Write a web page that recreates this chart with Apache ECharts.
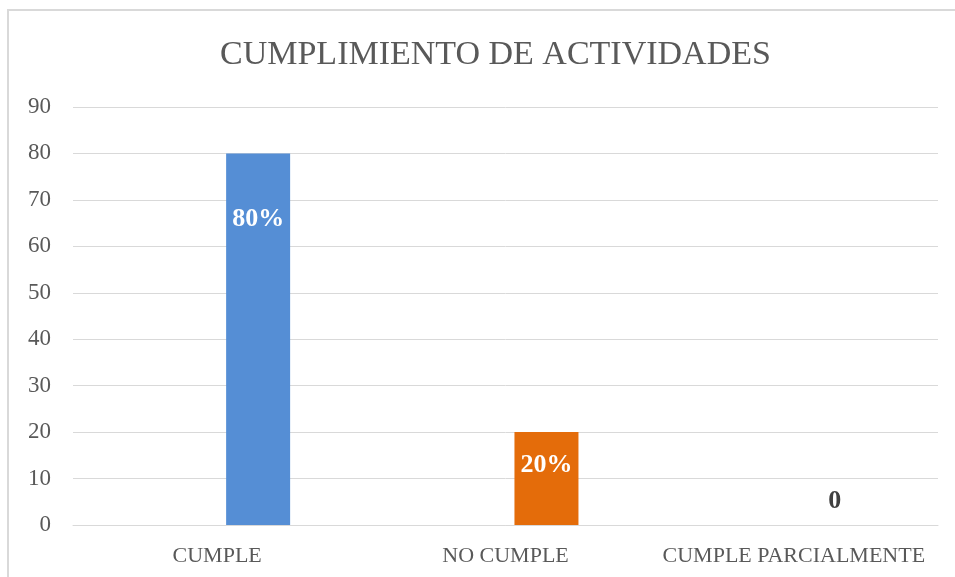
<!DOCTYPE html>
<html>
<head>
<meta charset="utf-8">
<script src="https://cdn.jsdelivr.net/npm/echarts@6/dist/echarts.min.js"></script>
<style>
  html, body { margin: 0; padding: 0; background: #fff; }
  #chart { width: 955px; height: 577px; }
</style>
</head>
<body>
<div id="chart"></div>
<script>
// chart data
const titleText = 'CUMPLIMIENTO DE ACTIVIDADES';
const categories = ['CUMPLE', 'NO CUMPLE', 'CUMPLE PARCIALMENTE'];
const values = [80, 20, 0];
const barColors = ['#558ed5', '#e46c0a', '#a5a5a5'];
const labelColors = ['#ffffff', '#ffffff', '#404040'];

const serif = '"Liberation Serif", "DejaVu Serif", serif';

// label placement per bar (inside near top, or above when the bar is empty)
const labelDist = [53, 20, 11];

const barData = values.map((v, i) => ({
  value: v,
  itemStyle: { color: barColors[i] },
  label: {
    position: v > 0 ? 'insideTop' : 'top',
    distance: labelDist[i],
    color: labelColors[i]
  }
}));

const chart = echarts.init(document.getElementById('chart'));
chart.setOption({
  animation: false,
  title: {
    text: titleText,
    left: 215,
    top: 33,
    textStyle: {
      fontFamily: serif,
      fontWeight: 'normal',
      fontSize: 34,
      color: '#595959'
    }
  },
  graphic: [{
    type: 'rect',
    shape: { x: 8, y: 10, width: 1000, height: 700 },
    style: { fill: 'none', stroke: '#d9d9d9', lineWidth: 2 },
    silent: true
  }],
  grid: { left: 73, right: 17, top: 107, bottom: 52, containLabel: false },
  xAxis: {
    type: 'category',
    data: categories,
    axisLine: { lineStyle: { color: '#d9d9d9', width: 1 } },
    axisTick: { show: false },
    axisLabel: {
      interval: 0,
      fontFamily: serif,
      fontSize: 22,
      color: '#595959',
      margin: 20
    }
  },
  yAxis: {
    type: 'value',
    min: 0,
    max: 90,
    interval: 10,
    axisLine: { show: false },
    axisTick: { show: false },
    splitLine: { lineStyle: { color: '#d9d9d9', width: 1 } },
    axisLabel: {
      fontFamily: serif,
      fontSize: 23,
      color: '#595959',
      margin: 22
    }
  },
  series: [
    {
      // empty first series so the real bars sit right of the category centre
      type: 'bar',
      data: values.map(() => null),
      barWidth: 64,
      barGap: '28%'
    },
    {
      type: 'bar',
      data: barData,
      barWidth: 64,
      barGap: '28%',
      label: {
        show: true,
        fontFamily: serif,
        fontWeight: 'bold',
        fontSize: 26,
        formatter: p => (p.value > 0 ? p.value + '%' : String(p.value))
      }
    }
  ]
});
</script>
</body>
</html>
